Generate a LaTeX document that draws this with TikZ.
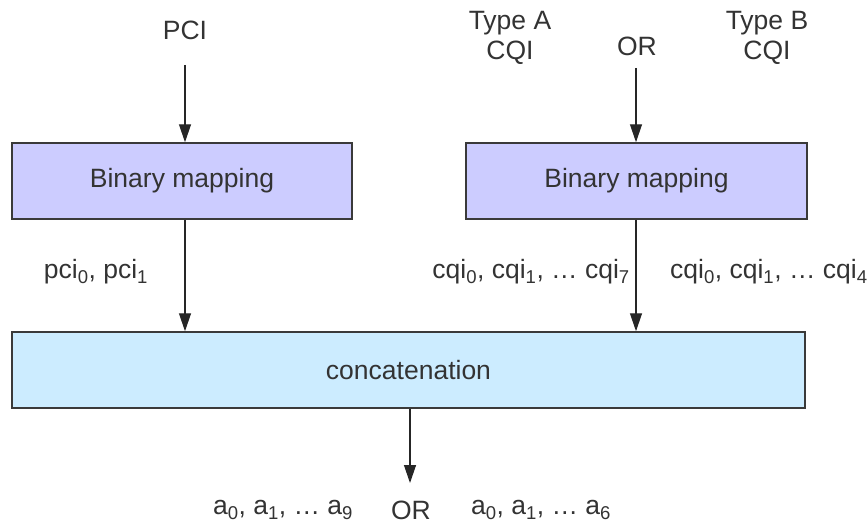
\documentclass[tikz,border=0pt]{standalone}
\usepackage{fontspec}
\setmainfont{Liberation Sans}
\usetikzlibrary{arrows.meta,calc}
\definecolor{bmfill}{HTML}{CCCCFF}
\definecolor{ccfill}{HTML}{CCECFF}
\definecolor{txt}{HTML}{333333}
\definecolor{edge}{HTML}{3A3A3A}
\newcommand{\sbs}[1]{\textsubscript{#1}}
\begin{document}
\begin{tikzpicture}[x=1pt,y=-1pt,
  every node/.style={font=\fontsize{26.5}{30}\selectfont, text=txt, inner sep=0pt},
  blockbox/.style={draw=edge, line width=1.5pt, minimum height=76pt},
  flow/.style={draw=black!85, line width=1.3pt, -{Triangle[length=18pt,width=12pt]}}]
\useasboundingbox (0,0) rectangle (868,527);
% boxes
\node[blockbox, fill=bmfill, minimum width=340pt] (bm1) at (182,181) {Binary mapping};
\node[blockbox, fill=bmfill, minimum width=341pt] (bm2) at (636.5,181) {Binary mapping};
\node[blockbox, fill=ccfill, minimum width=793pt] (cc) at (408.5,370) {concatenation};
% top labels
\node (pci) at (185,30) {PCI};
\node[align=center] (ta) at (510,38) {Type A\\CQI};
\node (or1) at (637,46) {OR};
\node[align=center] (tb) at (767,38) {Type B\\CQI};
% arrow start/end points
\coordinate (p0) at (185,65);
\coordinate (c0) at (636,68);
\coordinate (o0) at (410,483);
% connectors
\draw[flow] (p0) -- (p0 |- bm1.north);
\draw[flow] (c0) -- (c0 |- bm2.north);
\draw[flow] (bm1.south -| p0) -- (cc.north -| p0);
\draw[flow] (bm2.south -| c0) -- (cc.north -| c0);
\draw[flow] (cc.south -| o0) -- (o0);
% middle labels
\node (lp) at (96,272) {pci\sbs{0}, pci\sbs{1}};
\node[anchor=east] (lca) at (630,272) {cqi\sbs{0}, cqi\sbs{1}, … cqi\sbs{7}};
\node[anchor=west] (lcb) at (670,272) {cqi\sbs{0}, cqi\sbs{1}, … cqi\sbs{4}};
% bottom labels
\node (ba) at (283,510) {a\sbs{0}, a\sbs{1}, … a\sbs{9}};
\node (or2) at (411,510) {OR};
\node (bb) at (541,510) {a\sbs{0}, a\sbs{1}, … a\sbs{6}};
\end{tikzpicture}
\end{document}
